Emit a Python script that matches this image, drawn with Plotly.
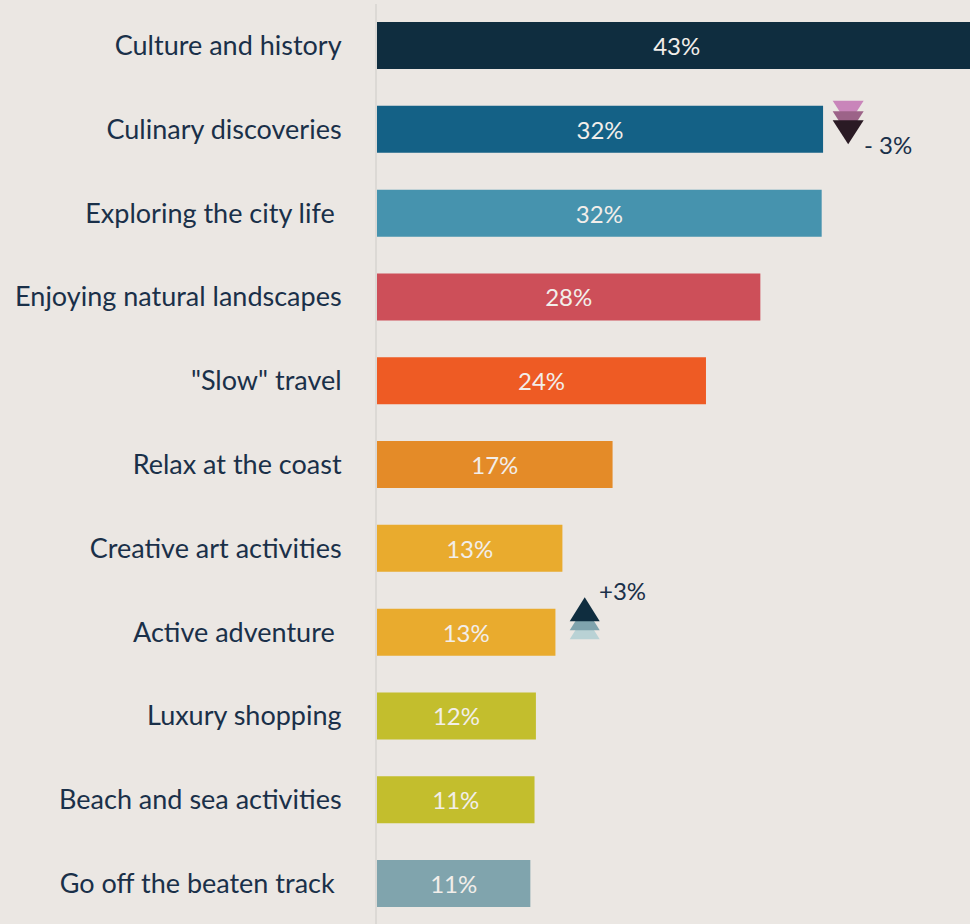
import plotly.graph_objects as go

categories = ["Culture and history", "Culinary discoveries", "Exploring the city life\u00a0",
              "Enjoying natural landscapes", '"Slow" travel', "Relax at the coast",
              "Creative art activities", "Active adventure\u00a0", "Luxury shopping",
              "Beach and sea activities", "Go off the beaten track\u00a0"]
values = [43.0, 32.0, 31.9, 27.5, 23.6, 16.9, 13.3, 12.8, 11.4, 11.3, 11.0]
labels = ["43%", "32%", "32%", "28%", "24%", "17%", "13%", "13%", "12%", "11%", "11%"]
colors = ["#0f2d3f", "#14618a", "#4693ae", "#cd4f59", "#ee5b24", "#e48b28", "#e9ab2e",
          "#e9ab2e", "#c3be2d", "#c3be2d", "#80a4ad"]
colors[1] = "#146186"

down_colors = ["#c985ba", "#9c6388", "#2a1a24"]
up_colors = ["#b9d2d5", "#7fa3ad", "#0f2d3f"]

BG = "#ebe7e3"
INK = "#1a3049"
FONT = "Lato"

fig = go.Figure(go.Bar(
    y=categories, x=values, orientation="h", width=0.561,
    marker=dict(color=colors, line=dict(width=0)),
    text=labels, textposition="inside", insidetextanchor="middle", textangle=0,
    insidetextfont=dict(family=FONT, size=24, color="#f2eeea"),
    hoverinfo="skip", showlegend=False,
))

shapes = []
DOWN = "M -15.5 0 L 15.5 0 L 0 -24 Z"
UP = "M -15 0 L 15 0 L 0 24 Z"
for col, offs in zip(down_colors, [19.5, 9, 0]):
    shapes.append(dict(type="path", xref="x", yref="y", xsizemode="pixel", ysizemode="pixel",
                       xanchor=33.8, yanchor=1, path="M -15.5 %g L 15.5 %g L 0 %g Z" % (9 + offs, 9 + offs, -15 + offs),
                       fillcolor=col, line=dict(width=0), layer="above"))
for col, offs in zip(up_colors, [-18, -9, 0]):
    shapes.append(dict(type="path", xref="x", yref="y", xsizemode="pixel", ysizemode="pixel",
                       xanchor=14.9, yanchor=7, path="M -15 %g L 15 %g L 0 %g Z" % (11 + offs, 11 + offs, 35 + offs),
                       fillcolor=col, line=dict(width=0), layer="above"))
fig.update_layout(shapes=shapes)

fig.add_annotation(x=34.8, y=1, text="- 3%", showarrow=False, xanchor="left", yanchor="middle",
                   yshift=-15, font=dict(family=FONT, size=24, color=INK))
fig.add_annotation(x=15.8, y=7, text="+3%", showarrow=False, xanchor="left", yanchor="middle",
                   yshift=42, font=dict(family=FONT, size=24, color=INK))

fig.update_layout(
    width=970, height=924, paper_bgcolor=BG, plot_bgcolor=BG,
    margin=dict(l=377, r=0, t=4, b=0),
    font=dict(family=FONT, color=INK),
    xaxis=dict(range=[0, 42.54], visible=False, fixedrange=True),
    yaxis=dict(type="category", categoryorder="array", categoryarray=categories,
               range=[10.483, -0.496], showgrid=False, zeroline=False,
               showline=True, linecolor="#dcd9d5", linewidth=2,
               ticks="outside", ticklen=28, tickcolor="rgba(0,0,0,0)", tickwidth=1,
               tickfont=dict(family=FONT, size=27, color=INK), fixedrange=True),
)

fig.write_html("out.html", config={"displayModeBar": False},
               post_script="document.body.style.margin='0';document.body.style.overflow='hidden';")
